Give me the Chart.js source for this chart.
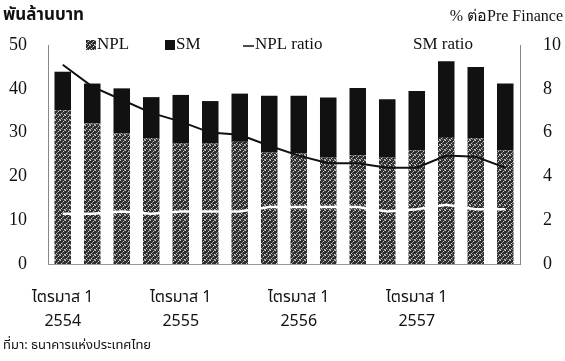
<!DOCTYPE html>
<html>
<head>
<meta charset="utf-8">
<script src="https://cdn.jsdelivr.net/npm/chart.js@4.4.1/dist/chart.umd.min.js"></script>
<style>
  html, body { margin: 0; padding: 0; background: #fff; }
  #wrap { width: 565px; height: 361px; }
</style>
</head>
<body>
<div id="wrap"><canvas id="chart" width="565" height="361"></canvas></div>
<script>
// data (16 quarters, Q1 2554 .. Q4 2557)
const quarters = ['ไตรมาส 1', '', '', '', 'ไตรมาส 1', '', '', '', 'ไตรมาส 1', '', '', '', 'ไตรมาส 1', '', '', '']
const years = ['2554', '', '', '', '2555', '', '', '', '2556', '', '', '', '2557', '', '', '']
const npl = [35.1, 32.1, 29.8, 28.7, 27.5, 27.5, 27.9, 25.5, 25.2, 24.4, 24.8, 24.4, 25.9, 29.0, 28.7, 25.9]
const sm = [8.8, 9.1, 10.3, 9.4, 11.1, 9.7, 11.0, 12.9, 13.2, 13.6, 15.4, 13.2, 13.6, 17.3, 16.3, 15.3]
const nplRatio = [9.1, 8.1, 7.5, 6.9, 6.5, 6.0, 5.9, 5.4, 4.95, 4.6, 4.6, 4.4, 4.4, 4.95, 4.9, 4.4]
const smRatio = [2.3, 2.3, 2.4, 2.3, 2.4, 2.4, 2.4, 2.6, 2.6, 2.6, 2.6, 2.4, 2.5, 2.7, 2.5, 2.5]
const leftTicks = [0, 10, 20, 30, 40, 50]
const rightTicks = [0, 2, 4, 6, 8, 10]

const labels = quarters.map((q, i) => q ? [q, years[i]] : '')

const serif = "'Liberation Serif', 'DejaVu Serif', serif"
const thai = "'Noto Sans Thai', 'Tahoma', 'DejaVu Sans', sans-serif"

// speckled dark grey fill for NPL, like the scanned original
function makePattern() {
  const c = document.createElement('canvas')
  c.width = 5; c.height = 5
  const g = c.getContext('2d')
  g.fillStyle = '#2e2e2e'
  g.fillRect(0, 0, 5, 5)
  g.fillStyle = '#d0d0d0'
  g.fillRect(0, 0, 1, 1)
  g.fillRect(3, 1, 1, 1)
  g.fillRect(1, 3, 1, 1)
  g.fillRect(4, 4, 1, 1)
  g.fillStyle = '#808080'
  g.fillRect(2, 2, 1, 1)
  g.fillRect(4, 0, 1, 1)
  g.fillRect(0, 4, 1, 1)
  g.fillRect(2, 4, 1, 1)
  return g.createPattern(c, 'repeat')
}
const nplFill = makePattern()

const textPlugin = {
  id: 'texts',
  afterDraw(chart) {
    const ctx = chart.ctx
    ctx.save()
    ctx.fillStyle = '#111'
    ctx.textBaseline = 'middle'
    // titles
    ctx.font = 'bold 17px ' + thai
    ctx.textAlign = 'left'
    ctx.fillText('พันล้านบาท', 3, 17)
    ctx.font = '16px ' + serif
    ctx.textAlign = 'right'
    ctx.fillText('% ต่อPre Finance', 563, 17)
    // legend
    const y = 45
    ctx.textAlign = 'left'
    ctx.font = '17px ' + serif
    ctx.fillStyle = nplFill
    ctx.fillRect(86, y - 5, 10, 10)
    ctx.fillStyle = '#111'
    ctx.fillText('NPL', 97, y)
    ctx.fillRect(165, y - 5, 10, 10)
    ctx.fillText('SM', 176, y)
    ctx.strokeStyle = '#111'
    ctx.lineWidth = 1.5
    ctx.beginPath()
    ctx.moveTo(243, y + 1)
    ctx.lineTo(254, y + 1)
    ctx.stroke()
    ctx.fillText('NPL ratio', 255, y)
    ctx.fillText('SM ratio', 413, y)
    // source
    ctx.font = '13px ' + thai
    ctx.fillText('ที่มา: ธนาคารแห่งประเทศไทย', 3, 346)
    ctx.restore()
  }
}

new Chart(document.getElementById('chart'), {
  data: {
    labels: labels,
    datasets: [
      {
        type: 'line',
        label: 'NPL ratio',
        data: nplRatio,
        yAxisID: 'y1',
        borderColor: '#111',
        borderWidth: 2,
        pointRadius: 0,
        tension: 0,
        order: 0
      },
      {
        type: 'line',
        label: 'SM ratio',
        data: smRatio,
        yAxisID: 'y1',
        borderColor: '#ffffff',
        borderWidth: 2.5,
        pointRadius: 0,
        tension: 0,
        order: 0
      },
      {
        type: 'bar',
        label: 'NPL',
        data: npl,
        yAxisID: 'y',
        backgroundColor: nplFill,
        stack: 's',
        barPercentage: 0.56,
        categoryPercentage: 1,
        order: 1
      },
      {
        type: 'bar',
        label: 'SM',
        data: sm,
        yAxisID: 'y',
        backgroundColor: '#111111',
        stack: 's',
        barPercentage: 0.56,
        categoryPercentage: 1,
        order: 1
      }
    ]
  },
  options: {
    responsive: false,
    animation: false,
    layout: { padding: { top: 45, left: 8, right: 4, bottom: 3 } },
    plugins: {
      legend: { display: false },
      tooltip: { enabled: false }
    },
    scales: {
      x: {
        stacked: true,
        grid: { display: false, drawTicks: false },
        border: { display: true, color: '#999', dash: [2, 2] },
        afterFit: s => { s.paddingLeft = 0; s.paddingRight = 0 },
        ticks: {
          autoSkip: false,
          maxRotation: 0,
          padding: 23,
          color: '#111',
          font: { family: thai, size: 16, lineHeight: 1.5 }
        }
      },
      y: {
        stacked: true,
        position: 'left',
        min: 0,
        max: 50,
        afterBuildTicks: s => { s.ticks = leftTicks.map(v => ({ value: v })) },
        afterFit: s => { s.width = 40 },
        grid: { display: false, drawTicks: false },
        border: { display: true, color: '#888', dash: [2, 2] },
        ticks: {
          padding: 21,
          color: '#111',
          font: { family: serif, size: 18 }
        }
      },
      y1: {
        position: 'right',
        min: 0,
        max: 10,
        afterBuildTicks: s => { s.ticks = rightTicks.map(v => ({ value: v })) },
        afterFit: s => { s.width = 41 },
        grid: { display: false, drawTicks: false },
        border: { display: true, color: '#888', dash: [2, 2] },
        ticks: {
          padding: 23,
          color: '#111',
          font: { family: serif, size: 18 }
        }
      }
    }
  },
  plugins: [textPlugin]
})
</script>
</body>
</html>
